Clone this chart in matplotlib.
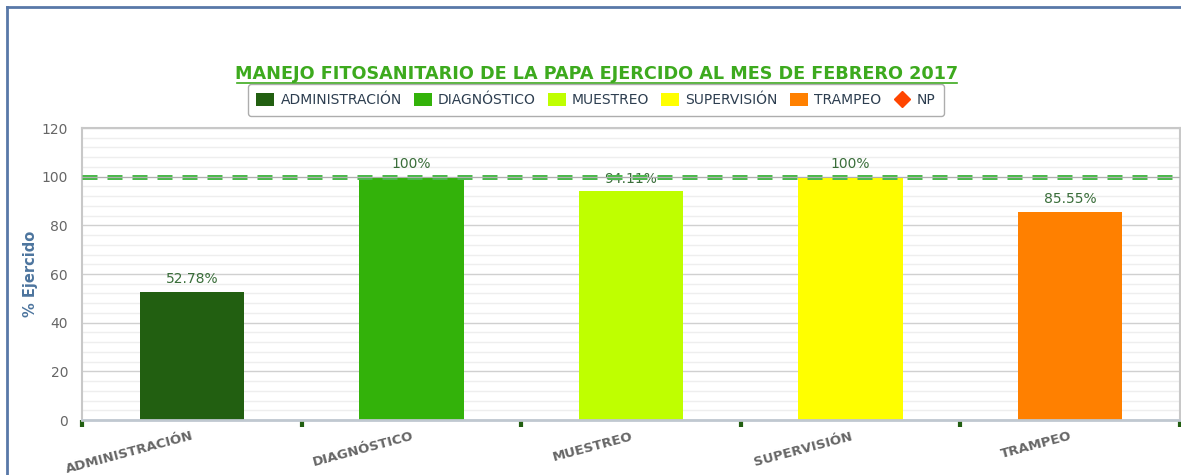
import matplotlib
matplotlib.use("Agg")
import matplotlib.pyplot as plt
from matplotlib.patches import Patch
from matplotlib.lines import Line2D
from matplotlib.ticker import MultipleLocator, FixedLocator

categories = ["ADMINISTRACIÓN", "DIAGNÓSTICO", "MUESTREO", "SUPERVISIÓN", "TRAMPEO"]
values = [52.78, 100, 94.11, 100, 85.55]
value_labels = ["52.78%", "100%", "94.11%", "100%", "85.55%"]
colors = ["#225F11", "#33B20A", "#BFFF00", "#FFFF00", "#FF8000"]
np_color = "#FF4500"
goal = 100
title = "MANEJO FITOSANITARIO DE LA PAPA EJERCIDO AL MES DE FEBRERO 2017"

W, H = 1181, 475
fig = plt.figure(figsize=(W / 100, H / 100), dpi=100)
fig.patch.set_facecolor("white")

L, R, B, T = 82, 1180, 420, 128
ax = fig.add_axes([L / W, 1 - B / H, (R - L) / W, (B - T) / H])

x = list(range(len(categories)))
ax.bar(x, values, width=0.475, color=colors, zorder=2, edgecolor="none")

ax.set_xlim(-0.5, len(categories) - 0.5)
ax.set_ylim(0, 120)

# grid
ax.yaxis.set_major_locator(MultipleLocator(20))
ax.yaxis.set_minor_locator(MultipleLocator(4))
ax.grid(axis="y", which="major", color="#D0D0D0", lw=1.0, zorder=0)
ax.grid(axis="y", which="minor", color="#EEEEEE", lw=1.0, zorder=0)
ax.set_axisbelow(True)

# goal line
ax.axhline(goal, color="#4CB84C", lw=3.6, linestyle=(0, (3.0, 2.0)), zorder=4)
ax.axhline(goal, color="#B0B0B0", lw=0.8, zorder=4.1)

# value labels
for xi, v, lab in zip(x, values, value_labels):
    ax.text(xi, v + 2.2, lab, ha="center", va="bottom", fontsize=10,
            color="#3A6E3A", zorder=3)

# spines
for s in ["left", "top", "right"]:
    ax.spines[s].set_color("#C8C8C8")
    ax.spines[s].set_linewidth(1.5)
ax.spines["bottom"].set_color("#C0C8D0")
ax.spines["bottom"].set_linewidth(2)

# x ticks
ax.xaxis.set_major_locator(FixedLocator(x))
ax.set_xticklabels(categories)
ax.xaxis.set_minor_locator(FixedLocator([i - 0.5 for i in range(len(categories) + 1)]))
ax.tick_params(axis="x", which="major", length=0, pad=7)
ax.tick_params(axis="x", which="minor", length=5, width=3, color="#225F11", direction="out")
for lbl in ax.get_xticklabels():
    lbl.set_rotation(15)
    lbl.set_ha("right")
    lbl.set_va("top")
    lbl.set_rotation_mode("anchor")
    lbl.set_fontweight("bold")
    lbl.set_color("#666666")
    lbl.set_fontsize(9.5)

ax.tick_params(axis="y", which="both", length=0, pad=10, labelsize=10, labelcolor="#666666")

ax.set_ylabel("% Ejercido", fontsize=10.5, fontweight="bold", color="#4D759E", labelpad=3)

# title
fig.text(597 / W, 1 - 74 / H, title, ha="center", va="center", fontsize=12.7,
         fontweight="bold", color="#3DAA1E")
fig.add_artist(Line2D([237 / W, 957 / W], [1 - 83 / H, 1 - 83 / H], color="#3DAA1E", lw=1.2))

# legend
handles = [Patch(facecolor=c, edgecolor="none") for c in colors]
handles.append(Line2D([], [], marker="D", color=np_color, linestyle="none", markersize=8))
labels = categories + ["NP"]
leg = fig.legend(handles, labels, loc="center", bbox_to_anchor=(596 / W, 1 - 100 / H),
                 ncol=6, fontsize=10, frameon=True, fancybox=True,
                 handlelength=1.3, handleheight=1.1, handletextpad=0.45, columnspacing=0.85,
                 borderpad=0.6, labelcolor="#2D3E50")
leg.get_frame().set_edgecolor("#999999")
leg.get_frame().set_linewidth(1.0)

# outer frame
fig.add_artist(Line2D([7 / W, 7 / W], [0, 1 - 7 / H], color="#5878A8", lw=2))
fig.add_artist(Line2D([7 / W, 1], [1 - 7 / H, 1 - 7 / H], color="#5878A8", lw=2))

fig.savefig("out.png", dpi=100)
